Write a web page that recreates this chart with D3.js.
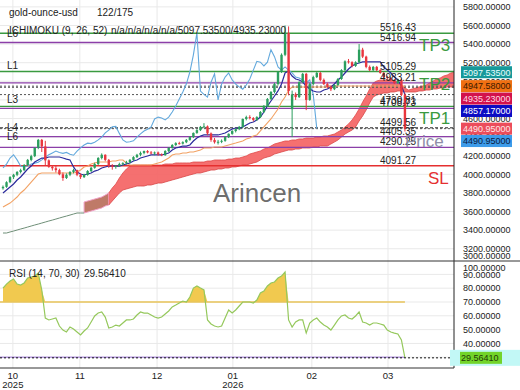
<!DOCTYPE html>
<html>
<head>
<meta charset="utf-8">
<script src="https://d3js.org/d3.v7.min.js"></script>
<style>
  body { margin: 0; background: #fff; }
  text { font-family: "Liberation Sans", Arial, sans-serif; }
</style>
</head>
<body>
<svg id="chart" width="520" height="390"></svg>
<script>
// ---- data ----
// daily bars [open, high, low, close]
var bars = [
 [3850,3880,3835,3865],[3865,3925,3855,3915],[3915,3980,3905,3970],[3970,4005,3950,3995],[3995,4035,3980,4025],
 [4025,4060,4010,4045],[4045,4110,4035,4100],[4100,4165,4090,4155],[4155,4210,4140,4195],[4195,4290,4185,4285],
 [4285,4380,4270,4370],[4370,4380,4240,4300],[4300,4360,4100,4150],[4150,4160,4070,4080],[4080,4100,4040,4065],
 [4065,4090,4020,4045],[4045,4060,3990,4000],[4000,4020,3930,3960],[3960,4010,3950,3995],[3995,4035,3980,4025],
 [4025,4060,4010,4045],[4045,4050,3980,3995],[3995,4010,3950,3970],[3970,4005,3960,3995],[3995,4045,3985,4035],
 [4035,4080,4025,4070],[4070,4125,4060,4110],[4110,4185,4100,4175],[4175,4225,4160,4210],[4210,4215,4140,4155],
 [4155,4165,4070,4090],[4090,4110,4050,4080],[4080,4100,4060,4090],[4090,4125,4080,4110],[4110,4130,4095,4120],
 [4120,4145,4105,4130],[4130,4165,4120,4155],[4155,4195,4145,4185],[4185,4220,4175,4210],[4210,4245,4195,4230],
 [4230,4255,4215,4250],[4250,4260,4225,4235],[4235,4250,4215,4225],[4225,4245,4205,4235],[4235,4245,4200,4215],
 [4215,4225,4195,4205],[4205,4260,4200,4250],[4250,4290,4240,4285],[4285,4325,4275,4315],[4315,4345,4305,4335],
 [4335,4350,4320,4330],[4330,4355,4320,4345],[4345,4380,4335,4370],[4370,4410,4360,4400],[4400,4450,4390,4445],
 [4445,4485,4435,4475],[4475,4520,4465,4510],[4510,4550,4495,4515],[4515,4525,4420,4440],[4440,4450,4350,4370],
 [4370,4390,4330,4345],[4345,4370,4320,4350],[4350,4375,4335,4360],[4360,4410,4350,4400],[4400,4440,4390,4435],
 [4435,4475,4425,4465],[4465,4495,4450,4485],[4485,4520,4475,4510],[4510,4600,4500,4595],[4595,4630,4580,4615],
 [4615,4635,4590,4605],[4605,4615,4570,4585],[4585,4625,4575,4615],[4615,4680,4605,4670],[4670,4745,4660,4735],
 [4735,4820,4725,4810],[4810,4895,4800,4885],[4885,4985,4870,4970],[4970,5110,4955,5100],[5100,5300,5090,5285],
 [5285,5600,5270,5520],[5520,5590,4850,4895],[4700,4900,4400,4860],[4860,4880,4800,4830],[4830,5000,4820,4990],
 [4990,5090,4980,5080],[5080,5090,4690,4800],[4800,4985,4790,4970],[4970,5060,4960,5045],[5045,5100,5035,5090],
 [5090,5100,5000,5015],[5015,5030,4960,4970],[4970,4985,4925,4940],[4940,4955,4895,4915],[4915,4970,4905,4960],
 [4960,5035,4950,5025],[5025,5130,5015,5120],[5120,5225,5110,5215],[5215,5240,5190,5205],[5205,5215,5150,5165],
 [5165,5215,5155,5205],[5205,5400,5195,5340],[5340,5360,5250,5265],[5265,5275,5140,5155],[5155,5170,5110,5120],
 [5120,5165,5110,5155],[5155,5165,5110,5120],[5120,5130,5080,5090],[5090,5100,5035,5045],[5045,5060,5020,5035],
 [5035,5045,5000,5015],[5015,5025,4970,4980],[4980,5025,4970,5015],[5015,5030,4840,4855],[4855,4870,4460,4490.95]
];

var tenkan = [3799,3831,3863,3896,3939,3971,4014,4057,4089,4132,4154,4175,4175,4186,4186,4186,4186,4175,4164,4154,
 4079,4025,4003,3993,4003,4014,4035,4046,4068,4079,4089,4089,4089,4089,4100,4111,4122,4143,4154,4175,
 4186,4197,4208,4208,4208,4208,4218,4229,4261,4283,4293,4304,4304,4315,4358,4390,4412,4423,4423,4423,
 4423,4423,4433,4444,4466,4487,4498,4498,4509,4530,4552,4562,4584,4616,4670,4734,4788,4842,4896,4971,
 5089,5111,5057,5025,5014,4992,4949,4917,4896,4885,4885,4906,4917,4939,4971,5014,5046,5089,5132,5164,
 5186,5197,5208,5208,5208,5208,5208,5208,5154,5121,5089,5046,5014,4949,4857.17];

var kijun = [3648,3670,3691,3723,3756,3799,3831,3874,3917,3960,4003,4014,4014,4014,4014,4014,4014,4014,4014,4014,
 4014,4025,4046,4079,4089,4111,4122,4132,4132,4132,4132,4143,4143,4154,4154,4122,4100,4100,4100,4100,
 4100,4100,4100,4111,4122,4132,4154,4175,4208,4218,4218,4229,4229,4240,4240,4251,4261,4283,4283,4283,
 4293,4293,4293,4304,4315,4326,4336,4347,4358,4380,4390,4412,4423,4466,4509,4552,4595,4648,4702,4777,
 4831,4906,4939,4939,4939,4939,4939,4939,4939,4939,4939,4939,4939,4949,4949,4949,4949,4949,4949,4949,
 4949,4949,4949,4949,4949,4949,4949,4949,4949,4949,4949,4949,4949,4949,4947.58];

// leading span B, from bar 0 (runs 26 bars past the last candle)
var senkouB = [3369,3369,3380,3390,3401,3412,3422,3433,3444,3455,3465,3476,3487,3498,3508,3519,3530,3541,3551,3562,
 3573,3584,3584,3584,3594,3605,3616,3627,3638,3659,3670,3713,3756,3799,3831,3842,3853,3863,3874,3874,
 3874,3885,3885,3896,3906,3906,3917,3928,3939,3949,3960,3971,3982,3993,4003,4014,4014,4025,4035,4046,
 4046,4057,4057,4068,4068,4079,4079,4089,4100,4100,4111,4122,4132,4154,4175,4186,4197,4218,4229,4240,
 4251,4261,4261,4272,4272,4283,4283,4283,4293,4293,4304,4304,4304,4326,4347,4369,4401,4433,4455,4476,
 4509,4573,4627,4691,4767,4831,4853,4863,4874,4874,4885,4885,4896,4896,4885,4885,4885,4885,4896,4896,
 4906,4906,4917,4917,4928,4928,4939,4939,4935.23];

// leading span A, starts at bar 23
var senkouAStart = 23;
var senkouA = [3702,3713,3723,3734,3745,3756,3777,3799,3853,3896,3960,4014,4057,4089,4100,4100,4100,4100,4100,4100,
 4100,4100,4100,4111,4111,4111,4122,4122,4122,4122,4122,4132,4132,4132,4132,4143,4143,4154,4154,4154,
 4154,4164,4164,4175,4175,4186,4197,4218,4229,4240,4251,4272,4283,4304,4326,4336,4347,4358,4358,4369,
 4369,4380,4380,4390,4390,4390,4401,4401,4412,4412,4423,4433,4455,4476,4509,4541,4584,4638,4702,4777,
 4842,4917,4982,5003,5014,5014,5014,5014,5003,4992,4960,4928,4906,4917,4928,4939,4949,4960,4982,5003,
 5025,5035,5057,5068,5089,5097.535];
var chikouShift = 25;

var rsi = [80.1,83,85.2,86.7,83,82.3,83.8,87.4,88.1,88.8,91,78.7,58.4,57,57.7,58.4,52.6,49.7,48.3,51.9,
 50.4,48.3,46.1,49,51.2,55.5,59.9,62,62.8,59.1,51.2,51.9,53.3,52.6,54.8,57,57,57.7,60.6,62.8,
 62,62,60.6,59.1,58.4,59.1,61.3,63.5,66.4,67.8,69.3,70.7,70,73.6,80.1,81.6,80.1,78.7,57,54.1,
 52.6,51.9,52.6,58.4,64.2,62,64.2,67.1,70,70,70,69.3,71.4,76.5,77.9,81.6,83.8,84.5,87.4,88.8,
 91.7,57,51.9,55.5,57,57,47.5,54.8,57,58.4,55.5,53.3,51.9,49.7,53.3,57,59.9,60.6,58.4,57.7,
 59.9,62.8,55.5,54.8,53.3,54.8,54.8,54.1,53.3,49.7,48.3,47.5,46.8,42.5,29.5641];

// horizontal trade levels
var levelValues = [5516.43, 5416.94, 5105.29, 4983.21, 4730.81, 4708.73, 4499.56, 4405.35, 4290.25, 4091.27];
var levelKinds  = ["target","pivot","target","pivot","target","pivot","mark","pivot","pivot","stop"];
var levelTags   = ["L6", "", "L1", "", "L3", "", "L4", "L6", "", ""];
var targetNames = ["TP3", "TP2", "TP1"];

// last values shown in boxes on the price scale
var markerNames  = ["senkouA", "kijun", "senkouB", "tenkan", "close", "chikou"];
var markerValues = [5097.535, 4947.58, 4935.23, 4857.17, 4490.95, 4490.95];

var priceTicks = [5800, 5600, 5400, 5200, 5000, 4800, 4600, 4400, 4200, 4000, 3800, 3600, 3400, 3200, 3000];
var rsiTicks = [100, 90, 80, 70, 60, 50, 40, 30];
var rsiLevels = [70, 30];

var monthLabels = ["10", "11", "12", "01", "02", "03"];
var yearLabels  = ["2025", "", "", "2026", "", ""];
var monthAt     = [2.8, 21.8, 43.7, 65.2, 87.6, 109.2];

// ---- layout ----
var axisX = 454, priceBottom = 261, rsiBottom = 368;

var svg = d3.select("#chart");

var x = d3.scaleLinear().domain([-0.85, 128.2]).range([0, 455]);
var y = d3.scaleLinear().domain([3068, 5874]).range([priceBottom, 0]);
var yr = d3.scaleLinear().domain([22.2, 99.7]).range([rsiBottom, priceBottom]);

var colors = {
  up: "#2b9e5e", down: "#e8363f",
  tenkan: "#2b2b9c", kijun: "#f2a264", chikou: "#63a9dd",
  cloud: "#f46464", cloudEarly: "#bf7a68", spanLine: "#6f8f78",
  target: "#3a9a40", pivot: "#8b3fa8", stop: "#e53030", mark: "#222",
  rsi: "#95c85c", over: "#f1c94f", lvl70: "#e9c45a", lvl30: "#b79be0"
};
var boxStyle = {
  senkouA: ["#17999a", "#eaffff"], kijun: ["#f07012", "#3a1800"], senkouB: ["#d2124c", "#ffd8e4"],
  tenkan: ["#0c0cc4", "#ffffff"], close: ["#ec4d5b", "#ffe6e8"], chikou: ["#3d9be9", "#0a1a40"]
};

var defs = svg.append("defs");
defs.append("clipPath").attr("id", "clipPrice").append("rect")
  .attr("x", 0).attr("y", 0).attr("width", axisX).attr("height", priceBottom);
defs.append("clipPath").attr("id", "clipRsi").append("rect")
  .attr("x", 0).attr("y", priceBottom).attr("width", axisX).attr("height", rsiBottom - priceBottom);

// grid
var grid = svg.append("g").attr("stroke", "#e9e9e9").attr("stroke-width", 1);
priceTicks.forEach(function(v) {
  if (y(v) > 0 && y(v) < priceBottom)
    grid.append("line").attr("x1", 0).attr("x2", axisX).attr("y1", y(v)).attr("y2", y(v));
});
rsiTicks.forEach(function(v) {
  if (yr(v) > priceBottom && yr(v) < rsiBottom)
    grid.append("line").attr("x1", 0).attr("x2", axisX).attr("y1", yr(v)).attr("y2", yr(v));
});
monthAt.forEach(function(m) {
  grid.append("line").attr("x1", x(m)).attr("x2", x(m)).attr("y1", 0).attr("y2", rsiBottom);
});

// ---- price panel ----
var pp = svg.append("g").attr("clip-path", "url(#clipPrice)");

var cloud = senkouA.map(function(a, k) {
  var i = senkouAStart + k;
  return { i: i, a: a, b: senkouB[i] };
});
var area = d3.area().x(function(d) { return x(d.i); })
  .y0(function(d) { return y(d.b); }).y1(function(d) { return y(d.a); });
var edge = function(key) { return d3.line().x(function(d) { return x(d.i); }).y(function(d) { return y(d[key]); }); };

pp.append("path").datum(cloud.filter(function(d) { return d.i <= 30; }))
  .attr("d", area).attr("fill", colors.cloudEarly).attr("stroke", "#f2a0c8").attr("stroke-width", 1);
pp.append("path").datum(cloud.filter(function(d) { return d.i >= 30; }))
  .attr("d", area).attr("fill", colors.cloud).attr("fill-opacity", 0.92);
pp.append("path").datum(cloud.filter(function(d) { return d.i >= 30; })).attr("d", edge("a"))
  .attr("fill", "none").attr("stroke", "#e04a4a").attr("stroke-width", 0.8);
pp.append("path").datum(cloud.filter(function(d) { return d.i >= 30; })).attr("d", edge("b"))
  .attr("fill", "none").attr("stroke", "#d84848").attr("stroke-width", 0.8);

// span B before the cloud opens
pp.append("path")
  .datum(senkouB.slice(0, senkouAStart + 1).map(function(v, i) { return { i: i, b: v }; }))
  .attr("d", edge("b")).attr("fill", "none").attr("stroke", colors.spanLine).attr("stroke-width", 1);

// level lines
levelValues.forEach(function(v, k) {
  var kind = levelKinds[k];
  pp.append("line").attr("x1", 0).attr("x2", axisX).attr("y1", y(v)).attr("y2", y(v))
    .attr("stroke", colors[kind])
    .attr("stroke-width", kind === "stop" ? 1.6 : (kind === "mark" ? 1 : 1.3))
    .attr("stroke-dasharray", kind === "mark" ? "3,2" : null);
});
// dotted lines at the indicator last values
markerValues.forEach(function(v, k) {
  if (markerNames[k] === "chikou" || markerNames[k] === "senkouA") return;
  pp.append("line").attr("x1", 0).attr("x2", axisX).attr("y1", y(v)).attr("y2", y(v))
    .attr("stroke", "#555").attr("stroke-width", 1).attr("stroke-dasharray", "2,2");
});

// ichimoku lines
function seriesLine(values, start) {
  return d3.line().defined(function(d) { return d != null; })
    .x(function(d, i) { return x(i + start); }).y(function(d) { return y(d); })(values);
}
var closes = bars.map(function(b) { return b[3]; });
pp.append("path").attr("d", seriesLine(closes.slice(chikouShift), 0))
  .attr("fill", "none").attr("stroke", colors.chikou).attr("stroke-width", 1.1);
pp.append("path").attr("d", seriesLine(kijun, 0))
  .attr("fill", "none").attr("stroke", colors.kijun).attr("stroke-width", 1.1);
pp.append("path").attr("d", seriesLine(tenkan, 0))
  .attr("fill", "none").attr("stroke", colors.tenkan).attr("stroke-width", 1.2);

// candles
var bw = 2.4;
var candle = pp.append("g").selectAll("g").data(bars).join("g");
candle.append("line")
  .attr("x1", function(d, i) { return x(i); }).attr("x2", function(d, i) { return x(i); })
  .attr("y1", function(d) { return y(d[1]); }).attr("y2", function(d) { return y(d[2]); })
  .attr("stroke", function(d) { return d[3] >= d[0] ? colors.up : colors.down; }).attr("stroke-width", 1);
candle.append("rect")
  .attr("x", function(d, i) { return x(i) - bw / 2; }).attr("width", bw)
  .attr("y", function(d) { return y(Math.max(d[0], d[3])); })
  .attr("height", function(d) { return Math.max(1, Math.abs(y(d[0]) - y(d[3]))); })
  .attr("fill", function(d) { return d[3] >= d[0] ? colors.up : colors.down; });

// level texts
levelValues.forEach(function(v, k) {
  pp.append("text").attr("x", 380).attr("y", y(v) - 2).attr("font-size", 10).attr("fill", "#222")
    .text(v.toFixed(2));
  if (levelTags[k])
    pp.append("text").attr("x", 7).attr("y", y(v) + (levelKinds[k] === "target" && k > 0 ? -3 : 3.5))
      .attr("font-size", 10).attr("fill", "#222").text(levelTags[k]);
});
var targets = levelValues.filter(function(v, k) { return levelKinds[k] === "target"; });
targets.forEach(function(v, k) {
  pp.append("text").attr("x", 419).attr("y", y(v) + 18).attr("font-size", 17)
    .attr("fill", colors.target).text(targetNames[k]);
});
var stopValue = levelValues[levelKinds.indexOf("stop")];
pp.append("text").attr("x", 428).attr("y", y(stopValue) + 18).attr("font-size", 17)
  .attr("fill", colors.stop).text("SL");
pp.append("text").attr("x", 405).attr("y", y(markerValues[4]) + 18).attr("font-size", 17)
  .attr("fill", "#8e8ea8").text("Price");

// watermark
svg.append("text").attr("x", 213).attr("y", 202).attr("font-size", 26)
  .attr("fill", "#5a5a5a").attr("fill-opacity", 0.9).text("Arincen");

// header
svg.append("text").attr("x", 9).attr("y", 16).attr("font-size", 10).attr("fill", "#222").text("gold-ounce-usd");
svg.append("text").attr("x", 97).attr("y", 16).attr("font-size", 10).attr("fill", "#222").text("122/175");
svg.append("text").attr("x", 9).attr("y", 34).attr("font-size", 10).attr("fill", "#222")
  .text("ICHIMOKU (9, 26, 52)");
svg.append("text").attr("x", 111).attr("y", 34).attr("font-size", 10).attr("fill", "#222")
  .text("n/a/n/a/n/a/n/a/" + markerValues[0].toFixed(5) + "/" + markerValues[2].toFixed(5));

// ---- RSI panel ----
var rp = svg.append("g").attr("clip-path", "url(#clipRsi)");
var rsiPts = rsi.map(function(v, i) { return { i: i, v: v }; });
rp.append("path").datum(rsiPts)
  .attr("d", d3.area().x(function(d) { return x(d.i); })
    .y0(yr(rsiLevels[0])).y1(function(d) { return yr(Math.max(d.v, rsiLevels[0])); }))
  .attr("fill", colors.over);
rp.append("line").attr("x1", 0).attr("x2", x(rsi.length - 1))
  .attr("y1", yr(rsiLevels[0])).attr("y2", yr(rsiLevels[0]))
  .attr("stroke", colors.lvl70).attr("stroke-width", 1.3);
rp.append("line").attr("x1", 0).attr("x2", x(rsi.length - 1))
  .attr("y1", yr(rsiLevels[1])).attr("y2", yr(rsiLevels[1]))
  .attr("stroke", colors.lvl30).attr("stroke-width", 1.6);
svg.append("line").attr("x1", 0).attr("x2", 456)
  .attr("y1", yr(rsi[rsi.length - 1])).attr("y2", yr(rsi[rsi.length - 1]))
  .attr("stroke", "#111").attr("stroke-width", 1).attr("stroke-dasharray", "2,2");
rp.append("path").datum(rsiPts)
  .attr("d", d3.line().x(function(d) { return x(d.i); }).y(function(d) { return yr(d.v); }))
  .attr("fill", "none").attr("stroke", colors.rsi).attr("stroke-width", 1.2);
svg.append("text").attr("x", 9).attr("y", 277).attr("font-size", 10).attr("fill", "#222")
  .text("RSI (14, 70, 30)");
svg.append("text").attr("x", 84).attr("y", 277).attr("font-size", 10).attr("fill", "#222")
  .text(rsi[rsi.length - 1].toFixed(5));

// ---- frame ----
svg.append("line").attr("x1", axisX).attr("x2", axisX).attr("y1", 0).attr("y2", rsiBottom)
  .attr("stroke", "#222").attr("stroke-width", 1);
svg.append("line").attr("x1", 0).attr("x2", 520).attr("y1", priceBottom).attr("y2", priceBottom)
  .attr("stroke", "#333").attr("stroke-width", 1);
svg.append("line").attr("x1", 0).attr("x2", axisX).attr("y1", rsiBottom).attr("y2", rsiBottom)
  .attr("stroke", "#333").attr("stroke-width", 1);

// price scale labels
priceTicks.forEach(function(v) {
  var py = y(v);
  if (py < -8 || py > priceBottom + 8) return;
  py = Math.max(6, Math.min(priceBottom - 5.5, py));
  svg.append("text").attr("x", 463).attr("y", py + 3.3).attr("font-size", 9).attr("fill", "#222")
    .text(v.toFixed(5));
});
// indicator boxes, pushed down so they do not overlap
var lastY = -100;
markerValues.forEach(function(v, k) {
  var by = Math.max(y(v), lastY + 12.4);
  lastY = by;
  var st = boxStyle[markerNames[k]];
  svg.append("rect").attr("x", 461).attr("y", by - 6).attr("width", 51).attr("height", 12).attr("fill", st[0]);
  svg.append("text").attr("x", 463).attr("y", by + 3.3).attr("font-size", 9).attr("fill", st[1])
    .text(v.toFixed(5));
});

// rsi scale labels
rsiTicks.forEach(function(v) {
  if (v === rsiLevels[1]) return;
  var py = Math.max(priceBottom + 7, yr(v));
  svg.append("text").attr("x", 463).attr("y", py + 3.3).attr("font-size", 9).attr("fill", "#222")
    .text(v.toFixed(5));
});
var lastRsi = rsi[rsi.length - 1];
svg.append("rect").attr("x", 450).attr("y", yr(lastRsi) - 8).attr("width", 70).attr("height", 16).attr("fill", "#c2f8f6");
svg.append("rect").attr("x", 460).attr("y", yr(lastRsi) - 6).attr("width", 42).attr("height", 12).attr("fill", "#72d42a");
svg.append("text").attr("x", 461).attr("y", yr(lastRsi) + 3.3).attr("font-size", 9).attr("fill", "#1f3a06")
  .text(lastRsi.toFixed(5));

// time axis
monthLabels.forEach(function(m, k) {
  svg.append("text").attr("x", x(monthAt[k])).attr("y", 379).attr("font-size", 9.5)
    .attr("text-anchor", "middle").attr("fill", "#222").text(m);
  if (yearLabels[k])
    svg.append("text").attr("x", x(monthAt[k])).attr("y", 388).attr("font-size", 9.5)
      .attr("text-anchor", "middle").attr("fill", "#222").text(yearLabels[k]);
});
</script>
</body>
</html>
